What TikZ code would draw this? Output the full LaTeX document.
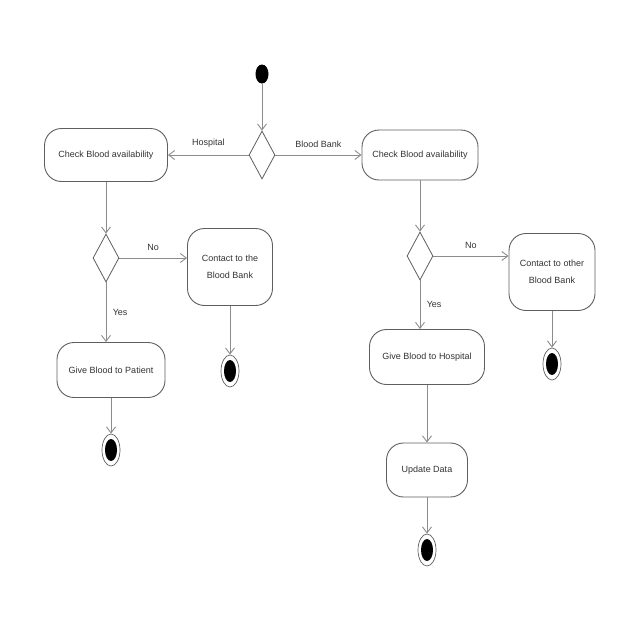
\documentclass[tikz,border=0pt]{standalone}
\usepackage{fontspec}
\setmainfont{Liberation Sans}
\usepackage{xcolor}
\usepackage{tikz}
\usetikzlibrary{positioning,arrows.meta,shapes.geometric}
\definecolor{lineGray}{RGB}{140,140,140}
\definecolor{boxGray}{RGB}{95,95,95}

\begin{document}
\begin{tikzpicture}[
        act/.style={draw=boxGray, line width=0.9pt, rounded corners=17pt, align=center,
                    fill=white, font=\fontsize{9}{17}\selectfont, text=black!80},
        dec/.style={draw=boxGray, line width=0.8pt, diamond, inner sep=0pt,
                    minimum width=26pt, minimum height=48pt, fill=white},
        startnode/.style={ellipse, fill=black, minimum width=13pt, minimum height=19pt, inner sep=0pt},
        endnode/.style={ellipse, draw=boxGray, line width=0.7pt, minimum width=18pt,
                    minimum height=32pt, inner sep=0pt,
                    path picture={\fill (path picture bounding box.center) ellipse (6pt and 11pt);}},
        flow/.style={draw=lineGray, line width=0.9pt, -{Straight Barb[length=6pt,width=9pt]}},
        lbl/.style={font=\fontsize{9}{10}\selectfont, text=black!80},
        on grid
    ]
        \useasboundingbox (0,0) rectangle (640pt,-640pt);
        \node[startnode] (start) at (262pt,-74pt) {};
        \node[dec, below=81pt of start] (dec1) {};
        \node[act, minimum width=123pt, minimum height=53pt, left=156pt of dec1] (chkHosp) {Check Blood availability};
        \node[act, minimum width=116pt, minimum height=50pt, right=158pt of dec1] (chkBank) {Check Blood availability};

        % hospital side
        \node[dec, below=103pt of chkHosp] (dec2) {};
        \node[act, minimum width=85pt, minimum height=77pt, below right=9pt and 124pt of dec2] (contBank) {Contact to the\\Blood Bank};
        \node[endnode, below=104pt of contBank] (end1) {};
        \node[act, minimum width=108pt, minimum height=55pt, below right=112pt and 5pt of dec2] (givePatient) {Give Blood to Patient};
        \node[endnode, below=80pt of givePatient] (end2) {};

        % blood bank side
        \node[dec, below=101pt of chkBank] (dec3) {};
        \node[act, minimum width=86pt, minimum height=77pt, below right=16pt and 132pt of dec3] (contOther) {Contact to other\\Blood Bank};
        \node[endnode, below=92pt of contOther] (end3) {};
        \node[act, minimum width=115pt, minimum height=55pt, below right=101pt and 7pt of dec3] (giveHosp) {Give Blood to Hospital};
        \node[act, minimum width=81pt, minimum height=54pt, below=113pt of giveHosp] (update) {Update Data};
        \node[endnode, below=80pt of update] (end4) {};

        \draw[flow] (start) -- (dec1);
        \draw[flow] (dec1.west) -- node[lbl, above=4pt] {Hospital} (chkHosp.east);
        \draw[flow] (dec1.east) -- node[lbl, above=4pt] {Blood Bank} (chkBank.west);

        \draw[flow] (chkHosp) -- (dec2);
        \draw[flow] (dec2.east) -- node[lbl, above=4pt] {No} (dec2.east -| contBank.west);
        \draw[flow] (dec2.south) -- node[lbl, right=3pt] {Yes} (dec2.south |- givePatient.north);
        \draw[flow] (contBank) -- (end1);
        \draw[flow] (givePatient) -- (end2);

        \draw[flow] (chkBank) -- (dec3);
        \draw[flow] (dec3.east) -- node[lbl, above=4pt] {No} (dec3.east -| contOther.west);
        \draw[flow] (dec3.south) -- node[lbl, right=3pt] {Yes} (dec3.south |- giveHosp.north);
        \draw[flow] (contOther) -- (end3);
        \draw[flow] (giveHosp) -- (update);
        \draw[flow] (update) -- (end4);
    \end{tikzpicture}
\end{document}
